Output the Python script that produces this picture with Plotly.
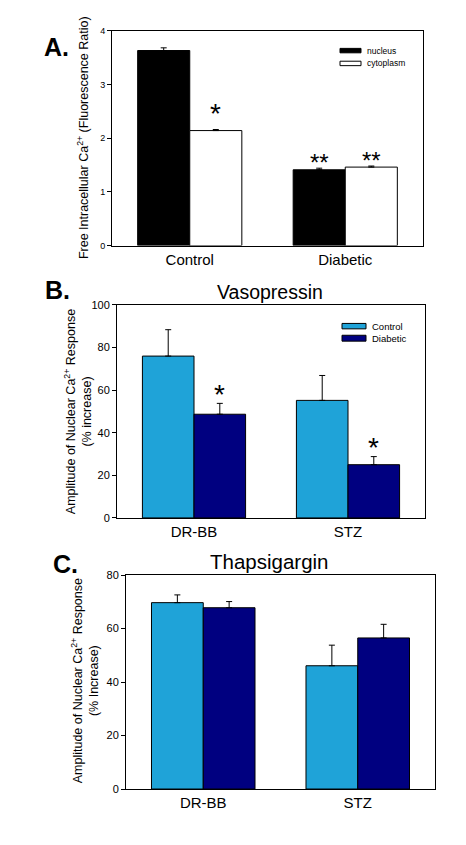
import plotly.graph_objects as go

W, H = 466, 845

# ---- data ----
a_categories = ["Control", "Diabetic"]
a_nucleus = [3.63, 1.41]
a_nucleus_err = [0.05, 0.03]
a_cytoplasm = [2.14, 1.46]
a_cytoplasm_err = [0.02, 0.02]
a_nucleus_sig = ["", "**"]
a_cytoplasm_sig = ["*", "**"]

b_categories = ["DR-BB", "STZ"]
b_control = [76.0, 55.2]
b_control_err = [12.4, 11.7]
b_diabetic = [48.7, 25.0]
b_diabetic_err = [5.1, 3.8]
b_diabetic_sig = ["*", "*"]

c_categories = ["DR-BB", "STZ"]
c_control = [69.7, 46.1]
c_control_err = [2.9, 7.7]
c_diabetic = [67.8, 56.5]
c_diabetic_err = [2.3, 5.1]

LIGHT = "#1FA3D8"
NAVY = "#000080"
FONT = "Arial, Liberation Sans, sans-serif"


def px(x):
    return x / W


def py(y):
    return 1 - y / H


fig = go.Figure()

BARGAP = 0.33
BW = (1 - BARGAP) / 2  # width of each bar in a group


def add_pair(xa, ya, cats, v1, e1, c1, n1, v2, e2, c2, n2):
    xs = list(range(len(cats)))
    for v, e, c, n, g in [(v1, e1, c1, n1, "1"), (v2, e2, c2, n2, "2")]:
        fig.add_trace(go.Bar(x=xs, y=v, name=n, xaxis=xa, yaxis=ya, offsetgroup=g,
                             marker=dict(color=c, line=dict(color="black", width=1)),
                             error_y=dict(type="data", array=e, arrayminus=[0] * len(e), symmetric=False,
                                          color="black", thickness=1, width=3),
                             showlegend=False, hoverinfo="skip"))


add_pair("x", "y", a_categories, a_nucleus, a_nucleus_err, "black", "nucleus",
         a_cytoplasm, a_cytoplasm_err, "white", "cytoplasm")
add_pair("x2", "y2", b_categories, b_control, b_control_err, LIGHT, "Control",
         b_diabetic, b_diabetic_err, NAVY, "Diabetic")
add_pair("x3", "y3", c_categories, c_control, c_control_err, LIGHT, "Control",
         c_diabetic, c_diabetic_err, NAVY, "Diabetic")

annotations = []
shapes = []


def sig(xref, yref, vals, errs, marks, side):
    for i, (v, e, m) in enumerate(zip(vals, errs, marks)):
        if not m:
            continue
        if len(m) == 2:
            size, shift = 24, 6
        elif xref == "x":
            size, shift = 28, 16
        else:
            size, shift = 28, 9
        annotations.append(dict(x=i + side * BW / 2, y=v + e, xref=xref, yref=yref, text=m,
                                showarrow=False, xanchor="center", yanchor="middle", yshift=shift,
                                font=dict(family=FONT, size=size, color="black")))


sig("x", "y", a_nucleus, a_nucleus_err, a_nucleus_sig, -1)
sig("x", "y", a_cytoplasm, a_cytoplasm_err, a_cytoplasm_sig, 1)
sig("x2", "y2", b_diabetic, b_diabetic_err, b_diabetic_sig, 1)


def text(txt, x, y, size, angle=0):
    annotations.append(dict(x=px(x), y=py(y), xref="paper", yref="paper", text=txt, showarrow=False,
                            xanchor="center", yanchor="middle", textangle=angle,
                            font=dict(family=FONT, size=size, color="black")))


# panel letters, titles and axis titles
text("<b>A.</b>", 56, 42, 25)
text("<b>B.</b>", 57, 288, 25)
text("<b>C.</b>", 65, 566, 25)
text("Vasopressin", 270, 290, 19.5)
text("Thapsigargin", 269, 564, 20.5)
text("Free Intracellular Ca<sup>2+</sup> (Fluorescence Ratio)", 83, 134, 12.5, -90)
text("Amplitude of Nuclear Ca<sup>2+</sup> Response<br>(% increase)", 78, 412, 12.5, -90)
text("Amplitude of Nuclear Ca<sup>2+</sup> Response<br>(% Increase)", 85, 685, 12.5, -90)


# custom legends (wide flat swatches as in the original)
def legend_item(label, color, x0, x1, y0, y1, size):
    shapes.append(dict(type="rect", xref="paper", yref="paper", x0=px(x0), x1=px(x1), y0=py(y1), y1=py(y0),
                       fillcolor=color, line=dict(color="black", width=1)))
    annotations.append(dict(x=px(x1 + 4), y=py((y0 + y1) / 2), xref="paper", yref="paper", text=label,
                            showarrow=False, xanchor="left", yanchor="middle",
                            font=dict(family=FONT, size=size, color="black")))


legend_item("nucleus", "black", 340, 361, 43, 47.5, 8.5)
legend_item("cytoplasm", "white", 340, 361, 56, 60.5, 8.5)
legend_item("Control", LIGHT, 342, 366, 322, 327.5, 9.5)
legend_item("Diabetic", NAVY, 342, 366, 334, 340, 9.5)

axis_common = dict(showline=True, mirror=True, linecolor="black", linewidth=1, showgrid=False,
                   zeroline=False, fixedrange=True)


def xaxis(dom, cats, anchor):
    return dict(axis_common, domain=dom, range=[-0.5, len(cats) - 0.5], tickvals=list(range(len(cats))),
                ticktext=cats, ticks="", anchor=anchor,
                tickfont=dict(family=FONT, size=15, color="black"))


def yaxis(dom, rng, dtick, anchor, size):
    return dict(axis_common, domain=dom, range=rng, dtick=dtick, ticks="outside", ticklen=4,
                tickcolor="black", anchor=anchor, tickfont=dict(family=FONT, size=size, color="black"))


fig.update_layout(
    width=W, height=H, margin=dict(l=0, r=0, t=0, b=0),
    paper_bgcolor="white", plot_bgcolor="white",
    barmode="group", bargap=BARGAP, bargroupgap=0,
    xaxis=xaxis([px(112), px(423)], a_categories, "y"),
    yaxis=yaxis([py(243), py(25)], [0, 4], 1, "x", 9),
    xaxis2=xaxis([px(117), px(425)], b_categories, "y2"),
    yaxis2=yaxis([py(519.3), py(303.3)], [0, 100], 20, "x2", 11),
    xaxis3=xaxis([px(126), px(435)], c_categories, "y3"),
    yaxis3=yaxis([py(794.3), py(577.3)], [0, 80], 20, "x3", 11),
    annotations=annotations,
    shapes=shapes,
    showlegend=False,
)

fig.write_html("out.html", config={"displayModeBar": False},
               post_script="document.body.style.margin='0px';")
